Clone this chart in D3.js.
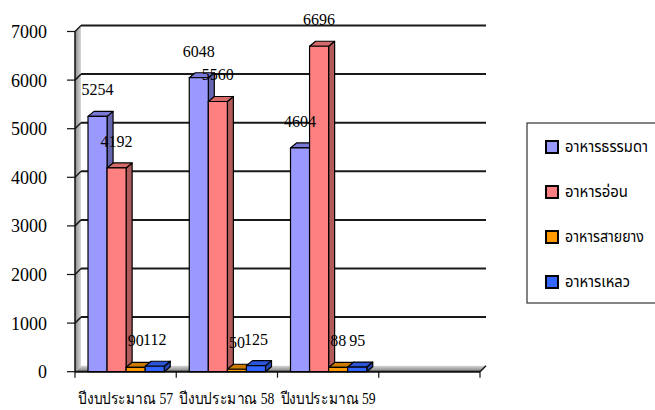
<!DOCTYPE html>
<html><head><meta charset="utf-8">
<script src="https://cdn.jsdelivr.net/npm/d3@7"></script>
<style>body{margin:0;background:#fff}svg{display:block}</style>
</head><body>
<svg id="c" width="655" height="410"></svg>
<script>
const categories = ["ปีงบประมาณ 57", "ปีงบประมาณ 58", "ปีงบประมาณ 59", ""];
const seriesNames = ["อาหารธรรมดา", "อาหารอ่อน", "อาหารสายยาง", "อาหารเหลว"];
const regular = [5254, 6048, 4604];
const soft = [4192, 5560, 6696];
const tube = [90, 50, 88];
const liquid = [112, 125, 95];
const yTicks = [0, 1000, 2000, 3000, 4000, 5000, 6000, 7000];

const seriesValues = [regular, soft, tube, liquid];
const fronts = ["#9999FF", "#FF8080", "#FF9900", "#3366FF"];
const sides = ["#6666B0", "#B05A5A", "#A86400", "#2446B0"];
const tops = ["#7A7AD6", "#D46A6A", "#CC7A00", "#2B55D6"];

const svg = d3.select("#c");
const serif = "Liberation Serif";
const thaiSerif = "Norasi";
const thaiSans = "Noto Sans Thai";

const x0 = d3.scaleBand().domain(categories).range([75, 480]);
const x1 = d3.scaleBand().domain(seriesNames).range([13, x0.bandwidth() - 12]);
const y = d3.scaleLinear().domain([0, 7000]).range([371.7, 31.5]);

const WDX = 6, WDY = -6;
const BDX = 6, BDY = -5;

const defs = svg.append("defs");
const fg = defs.append("linearGradient").attr("id", "floorG").attr("x1", 0).attr("y1", 0).attr("x2", 0).attr("y2", 1);
fg.append("stop").attr("offset", "0%").attr("stop-color", "#d8d8d8");
fg.append("stop").attr("offset", "100%").attr("stop-color", "#7a7a7a");
const wg = defs.append("linearGradient").attr("id", "wallG").attr("x1", 0).attr("y1", 0).attr("x2", 1).attr("y2", 0);
wg.append("stop").attr("offset", "0%").attr("stop-color", "#8a8a8a");
wg.append("stop").attr("offset", "100%").attr("stop-color", "#d8d8d8");

const xL = x0.range()[0], xR = x0.range()[1];
const y0 = y(0), yTop = y(7000);

svg.append("polygon")
  .attr("points", [[xL, yTop], [xL + WDX, yTop + WDY], [xL + WDX, y0 + WDY], [xL, y0]].join(" "))
  .attr("fill", "url(#wallG)");
svg.append("polygon")
  .attr("points", [[xL, y0], [xR, y0], [xR + WDX, y0 + WDY], [xL + WDX, y0 + WDY]].join(" "))
  .attr("fill", "url(#floorG)");

yTicks.forEach(t => {
  if (t === 0) return;
  const yy = y(t);
  svg.append("line").attr("x1", xL + WDX).attr("x2", xR + WDX)
    .attr("y1", yy + WDY).attr("y2", yy + WDY)
    .attr("stroke", "#1a1a1a").attr("stroke-width", 2);
  svg.append("line").attr("x1", xL).attr("x2", xL + WDX)
    .attr("y1", yy).attr("y2", yy + WDY)
    .attr("stroke", "#1a1a1a").attr("stroke-width", 1.5);
});

svg.append("line").attr("x1", xL).attr("x2", xL).attr("y1", yTop).attr("y2", y0)
  .attr("stroke", "#111").attr("stroke-width", 1.5);
svg.append("line").attr("x1", xL).attr("x2", xR).attr("y1", y0).attr("y2", y0)
  .attr("stroke", "#111").attr("stroke-width", 2);
svg.append("line").attr("x1", xR).attr("x2", xR + WDX).attr("y1", y0).attr("y2", y0 + WDY)
  .attr("stroke", "#111").attr("stroke-width", 1.5);

const yAxis = svg.append("g");
yTicks.forEach(t => {
  yAxis.append("line").attr("x1", 67).attr("x2", xL).attr("y1", y(t)).attr("y2", y(t))
    .attr("stroke", "#111").attr("stroke-width", 1.2);
  yAxis.append("text").attr("x", 47).attr("y", y(t) + 6.5)
    .attr("text-anchor", "end").attr("font-family", serif).attr("font-size", 18)
    .attr("fill", "#000").text(String(t));
});

const edges = categories.map(c => x0(c)).concat([xR]);
edges.forEach(e => {
  svg.append("line").attr("x1", e).attr("x2", e).attr("y1", y0).attr("y2", y0 + 6)
    .attr("stroke", "#111").attr("stroke-width", 1.2);
});
categories.forEach(c => {
  if (!c) return;
  svg.append("text").attr("x", x0(c) + x0.bandwidth() / 2).attr("y", 404)
    .attr("text-anchor", "middle").attr("font-family", thaiSerif).attr("font-size", 16)
    .attr("textLength", 95).attr("lengthAdjust", "spacingAndGlyphs")
    .attr("fill", "#000").text(c);
});

const barsG = svg.append("g");
const labels = [];
categories.forEach((c, ci) => {
  seriesNames.forEach((s, si) => {
    const v = seriesValues[si][ci];
    if (v === undefined) return;
    const bx = x0(c) + x1(s), bw = x1.bandwidth();
    const by = y(v), bb = y(0);
    const g = barsG.append("g").attr("stroke", "#000").attr("stroke-width", 1.2).attr("stroke-linejoin", "round");
    g.append("polygon").attr("fill", sides[si])
      .attr("points", [[bx + bw, by], [bx + bw + BDX, by + BDY], [bx + bw + BDX, bb + BDY], [bx + bw, bb]].join(" "));
    g.append("polygon").attr("fill", tops[si])
      .attr("points", [[bx, by], [bx + BDX, by + BDY], [bx + bw + BDX, by + BDY], [bx + bw, by]].join(" "));
    g.append("rect").attr("fill", fronts[si]).attr("x", bx).attr("y", by).attr("width", bw).attr("height", bb - by);
    labels.push({x: bx + bw / 2, y: by - 21, v});
  });
});
svg.append("g").selectAll("text").data(labels).join("text")
  .attr("x", d => d.x).attr("y", d => d.y).attr("text-anchor", "middle")
  .attr("font-family", serif).attr("font-size", 16).attr("fill", "#000")
  .text(d => String(d.v));

const legendWidths = [83, 63, 79, 65];
const lg = svg.append("g");
lg.append("rect").attr("x", 527).attr("y", 123).attr("width", 140).attr("height", 180)
  .attr("fill", "#fff").attr("stroke", "#333").attr("stroke-width", 1.2);
seriesNames.forEach((s, i) => {
  const cy = 147 + i * 45;
  lg.append("rect").attr("x", 546).attr("y", cy - 6).attr("width", 12).attr("height", 12)
    .attr("fill", fronts[i]).attr("stroke", "#000").attr("stroke-width", 2);
  lg.append("text").attr("x", 565).attr("y", cy + 5).attr("font-family", thaiSans)
    .attr("font-size", 15).attr("textLength", legendWidths[i]).attr("lengthAdjust", "spacingAndGlyphs")
    .attr("fill", "#000").text(s);
});
</script>
</body></html>
